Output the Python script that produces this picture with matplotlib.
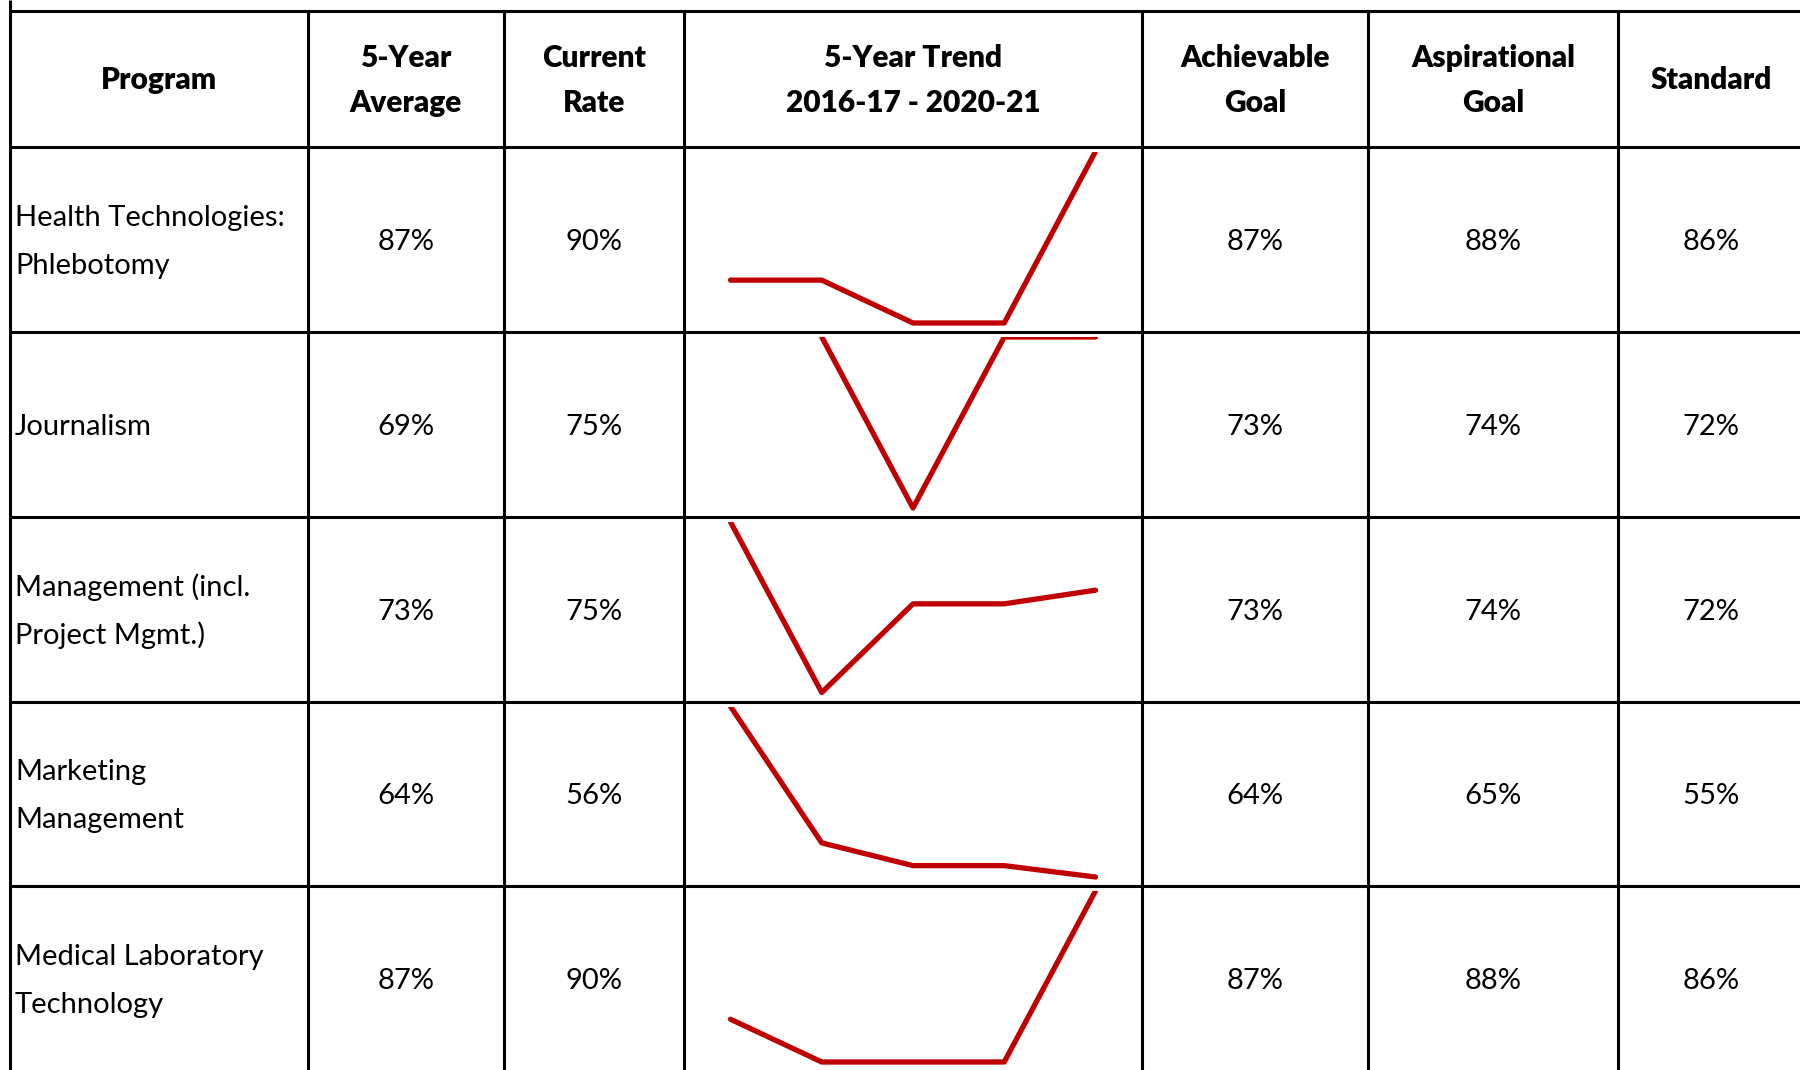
import matplotlib.pyplot as plt
import numpy as np

plt.rcParams['font.family'] = ['Lato', 'DejaVu Sans']

# table data
programs = [
    ['Health Technologies:', 'Phlebotomy'],
    ['Journalism'],
    ['Management (incl.', 'Project Mgmt.)'],
    ['Marketing', 'Management'],
    ['Medical Laboratory', 'Technology'],
]
five_year_avg = ['87%', '69%', '73%', '64%', '87%']
current_rate = ['90%', '75%', '75%', '56%', '90%']
achievable_goal = ['87%', '73%', '73%', '64%', '87%']
aspirational_goal = ['88%', '74%', '74%', '65%', '88%']
standard = ['86%', '72%', '72%', '55%', '86%']

headers = [['Program'], ['5-Year', 'Average'], ['Current', 'Rate'],
           ['5-Year Trend', '2016-17 - 2020-21'], ['Achievable', 'Goal'],
           ['Aspirational', 'Goal'], ['Standard']]

# yearly rates 2016-17 .. 2020-21 (read from sparklines)
trend_health = [87, 87, 86, 86, 90]
trend_journalism = [np.nan, 75, 51, 75, 75]
trend_management = [85, 60, 73, 73, 75]
trend_marketing = [86, 62, 58, 58, 56]
trend_medlab = [87, 86, 86, 86, 90]
trends = [trend_health, trend_journalism, trend_management,
          trend_marketing, trend_medlab]

W, H = 1800, 1070
DPI = 100
fig = plt.figure(figsize=(W / DPI, H / DPI), dpi=DPI)
ax = fig.add_axes([0, 0, 1, 1])
ax.set_xlim(0, W)
ax.set_ylim(H, 0)
ax.axis('off')

# layout in pixels
col_x = [9.5, 308, 504, 684, 1142, 1368, 1618, 1806]
row_y = [10.5, 146.5, 332, 517, 701.5, 886, 1071]
line_kw = dict(color='black', lw=2.2, solid_capstyle='butt')

# grid
ax.plot([col_x[0], col_x[0]], [0, H], **line_kw)
for y in row_y[:-1]:
    ax.plot([col_x[0], W], [y, y], **line_kw)
for x in col_x[1:-1]:
    ax.plot([x, x], [row_y[0], H], **line_kw)

FS = 21
HFS = 21.5


def put_lines(x, yc, lines, gap, fs, ha='center', bold=False):
    cap_off = 0.36 * fs * DPI / 72
    n = len(lines)
    for k, s in enumerate(lines):
        y = yc + (k - (n - 1) / 2) * gap + cap_off
        ax.text(x, y, s, ha=ha, va='baseline', fontsize=fs,
                fontweight='heavy' if bold else 'normal', color='black')


def col_center(c):
    if c == 6:
        return (col_x[6] + 1800) / 2 + 2
    return (col_x[c] + col_x[c + 1]) / 2


# header
hy = (row_y[0] + row_y[1]) / 2
for c, lines in enumerate(headers):
    put_lines(col_center(c), hy, lines, 45, HFS, bold=True)

# body
cols = [five_year_avg, current_rate, None, achievable_goal,
        aspirational_goal, standard]
for r in range(5):
    yc = (row_y[r + 1] + row_y[r + 2]) / 2
    put_lines(col_x[0] + 5.5, yc, programs[r], 48, FS, ha='left')
    for j, vals in enumerate(cols):
        if vals is None:
            continue
        put_lines(col_center(j + 1), yc, [vals[r]], 48, FS)

    # sparkline
    top = row_y[r + 1] + 5
    bot = row_y[r + 2] - 3
    hpx = bot - top
    sax = fig.add_axes([col_x[3] / W, 1 - bot / H,
                        (col_x[4] - col_x[3]) / W, hpx / H])
    vals = np.array(trends[r], dtype=float)
    lo, hi = np.nanmin(vals), np.nanmax(vals)
    rng = hi - lo
    pad = 6 / (hpx - 6) * rng
    sax.plot(range(5), vals, color='#C00000', lw=3.8,
             solid_capstyle='round', solid_joinstyle='round')
    sax.set_xlim(-0.51, 4.51)
    sax.set_ylim(lo - pad, hi)
    sax.axis('off')

fig.savefig('out.png', dpi=DPI)
